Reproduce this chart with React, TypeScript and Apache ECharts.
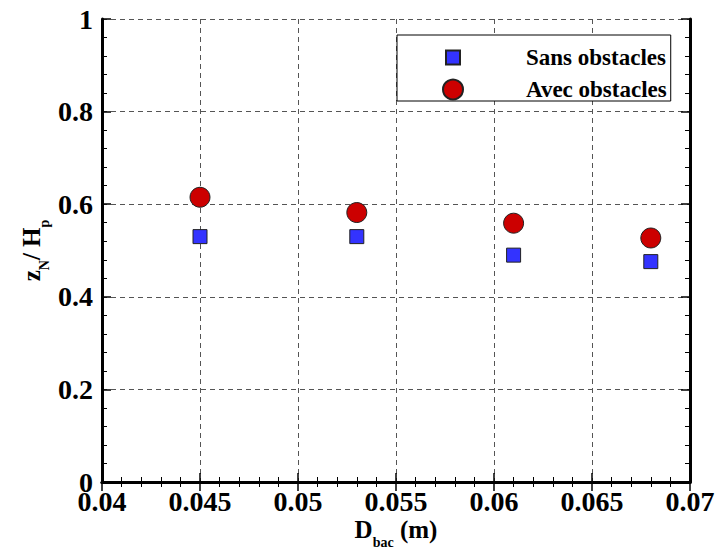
import React, { useEffect, useRef } from "react";
import * as echarts from "echarts";

const xValues = [0.045, 0.053, 0.061, 0.068];
const sansObstacles = [0.53, 0.53, 0.49, 0.476];
const avecObstacles = [0.615, 0.582, 0.559, 0.527];
const seriesNames = ["Sans obstacles", "Avec obstacles"];

const FONT = "'Liberation Serif', 'Times New Roman', Times, serif";

const fmt = (v: number) => parseFloat(v.toFixed(4)).toString();

export default function App() {
  const ref = useRef<HTMLDivElement>(null);
  useEffect(() => {
    if (!ref.current) return;
    const chart = echarts.init(ref.current, null, { renderer: "svg" });
    const axisLine = { show: true, lineStyle: { color: "#000", width: 3 } };
    const tick = { show: true, inside: true, length: 9, lineStyle: { color: "#000", width: 1.5 } };
    const minorTick = { show: true, splitNumber: 5, length: 5, lineStyle: { color: "#000", width: 1 } };
    const split = { show: true, lineStyle: { color: "#555", type: [5, 4], width: 1 } };
    const labelStyle = { fontFamily: FONT, fontWeight: "bold" as const, fontSize: 28, color: "#000" };
    const mainRich = { fontFamily: FONT, fontWeight: "bold" as const, fontSize: 25, lineHeight: 30, color: "#000" };
    const subRich = { fontFamily: FONT, fontWeight: "bold" as const, fontSize: 14, lineHeight: 14, color: "#000", padding: [26, 0, 0, 0] };

    const option: any = {
      animation: false,
      backgroundColor: "#fff",
      textStyle: { fontFamily: FONT },
      grid: { left: 102, right: 29, top: 19, bottom: 66, containLabel: false, outerBoundsMode: "none" },
      legend: {
        orient: "vertical",
        left: 397,
        top: 35,
        padding: [11, 4, 0, 45],
        itemGap: 9,
        itemWidth: 20,
        itemHeight: 20,
        backgroundColor: "#fff",
        borderColor: "#000",
        borderWidth: 1,
        borderRadius: 0,
        textStyle: {
          fontFamily: FONT,
          fontWeight: "bold",
          fontSize: 23,
          lineHeight: 20,
          color: "#000",
          padding: [0, 0, 0, 58],
        },
        data: [
          { name: seriesNames[0], icon: "path://M0,0M3,3h14v14h-14zM20,20" },
          { name: seriesNames[1], icon: "circle" },
        ],
      },
      xAxis: [
        {
          type: "value",
          min: 0.04,
          max: 0.07,
          interval: 0.005,
          position: "bottom",
          axisLine,
          axisTick: tick,
          minorTick,
          splitLine: split,
          axisLabel: { ...labelStyle, margin: 5, formatter: fmt },
          name: "{m|D}{s|bac}{m| (m)}",
          nameLocation: "middle",
          nameGap: 32,
          nameMoveOverlap: false,
          nameTextStyle: { rich: { m: mainRich, s: subRich } },
        },
        {
          type: "value",
          min: 0.04,
          max: 0.07,
          interval: 0.005,
          position: "top",
          axisLine,
          axisTick: tick,
          minorTick,
          splitLine: { show: false },
          axisLabel: { show: false },
        },
      ],
      yAxis: [
        {
          type: "value",
          min: 0,
          max: 1,
          interval: 0.2,
          position: "left",
          axisLine,
          axisTick: tick,
          minorTick,
          splitLine: split,
          axisLabel: { ...labelStyle, margin: 9, formatter: fmt },
          name: "{m|z}{s|N}{m|/\u00a0H}{s|p}",
          nameLocation: "middle",
          nameGap: 56,
          nameMoveOverlap: false,
          nameRotate: 90,
          nameTextStyle: { rich: { m: mainRich, s: subRich } },
        },
        {
          type: "value",
          min: 0,
          max: 1,
          interval: 0.2,
          position: "right",
          axisLine,
          axisTick: tick,
          minorTick,
          splitLine: { show: false },
          axisLabel: { show: false },
        },
      ],
      series: [
        {
          name: seriesNames[0],
          type: "scatter",
          symbol: "rect",
          symbolSize: 14,
          itemStyle: { color: "#3333ff", borderColor: "#222", borderWidth: 1, opacity: 1 },
          data: xValues.map((x, i) => [x, sansObstacles[i]]),
        },
        {
          name: seriesNames[1],
          type: "scatter",
          symbol: "circle",
          symbolSize: 20,
          itemStyle: { color: "#cc0000", borderColor: "#222", borderWidth: 1, opacity: 1 },
          data: xValues.map((x, i) => [x, avecObstacles[i]]),
        },
      ],
    };
    chart.setOption(option);
    return () => chart.dispose();
  }, []);
  return (
    <div
      ref={ref}
      style={{ position: "fixed", left: 0, top: 0, width: 719, height: 548, background: "#fff" }}
    />
  );
}
